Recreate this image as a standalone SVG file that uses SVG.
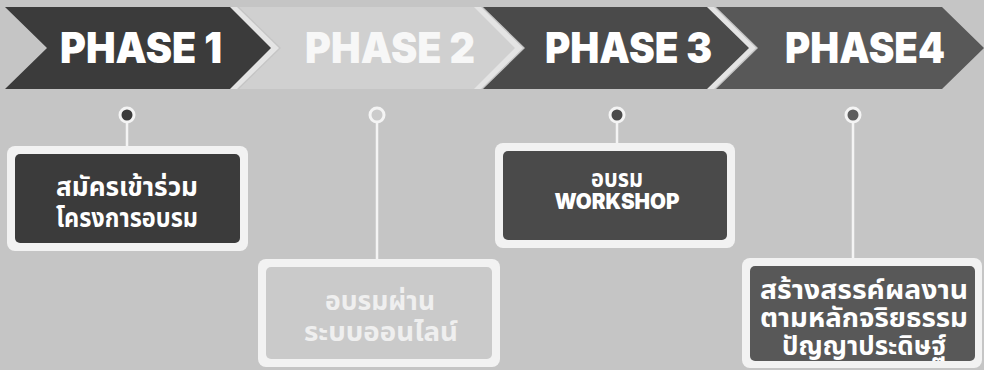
<svg xmlns="http://www.w3.org/2000/svg" width="984" height="370" viewBox="0 0 984 370">
  <style>
    .phase { font-family: "Inter", "Lato", "Liberation Sans", sans-serif; font-weight: 900; font-size: 42px; fill: #ffffff; }
    .frame { fill: #f2f2f2; }
    .thai { font-family: "Noto Sans Thai", "Noto Sans", "Liberation Sans", sans-serif; font-weight: 700; font-size: 27px; fill: #ffffff; text-anchor: middle; }
    .latin { font-family: "Inter", "Lato", "Liberation Sans", sans-serif; font-weight: 900; font-size: 21px; fill: #ffffff; text-anchor: middle; }
    .conn { stroke: #f4f4f4; stroke-width: 2.5; fill: none; }
    .dot { stroke: #f4f4f4; stroke-width: 3; }
  </style>
  <rect width="984" height="370" fill="#c5c5c5"/>

  <g id="separators" fill="#e4e4e4">
    <polygon points="228,7 237,7 279,48 237,89 228,89 270,48"/>
    <polygon points="472,7 481,7 523,48 481,89 472,89 514,48"/>
    <polygon points="705,7 714,7 756,48 714,89 705,89 747,48"/>
  </g>

  <g id="phase1">
    <polygon points="5,7 230,7 271,48 230,89 5,89 47,48" fill="#3b3b3b"/>
    <text class="phase" x="60" y="63" textLength="162" lengthAdjust="spacingAndGlyphs">PHASE 1</text>
  </g>
  <g id="phase2">
    <polygon points="239,7 474,7 515,48 474,89 239,89 281,48" fill="#d0d0d0"/>
    <text class="phase" x="305" y="63" textLength="170" lengthAdjust="spacingAndGlyphs" style="fill:#f7f7f7">PHASE 2</text>
  </g>
  <g id="phase3">
    <polygon points="483,7 707,7 749,48 707,89 483,89 525,48" fill="#4a4a4a"/>
    <text class="phase" x="545" y="63" textLength="167" lengthAdjust="spacingAndGlyphs">PHASE 3</text>
  </g>
  <g id="phase4">
    <polygon points="716,7 942,7 984,48 942,89 716,89 758,48" fill="#585858"/>
    <text class="phase" x="785" y="63" textLength="160" lengthAdjust="spacingAndGlyphs">PHASE4</text>
  </g>

  <g id="connectors">
    <line class="conn" x1="127" y1="115" x2="127" y2="148"/>
    <line class="conn" x1="377" y1="115" x2="377" y2="261"/>
    <line class="conn" x1="617" y1="115" x2="617" y2="145"/>
    <line class="conn" x1="853" y1="115" x2="853" y2="259"/>
    <circle class="dot" cx="127" cy="115" r="7" fill="#3b3b3b"/>
    <circle class="dot" cx="377" cy="115" r="7" fill="#cbcbcb"/>
    <circle class="dot" cx="617" cy="115" r="7" fill="#4a4a4a"/>
    <circle class="dot" cx="853" cy="115" r="7" fill="#5e5e5e"/>
  </g>

  <g id="step1">
    <rect class="frame" x="7" y="146" width="241" height="105" rx="8"/>
    <rect x="15" y="154" width="225" height="89" rx="5" fill="#3b3b3b"/>
    <text class="thai" x="127" y="196" textLength="142" lengthAdjust="spacingAndGlyphs">สมัครเข้าร่วม</text>
    <text class="thai" x="127" y="227" textLength="142" lengthAdjust="spacingAndGlyphs">โครงการอบรม</text>
  </g>
  <g id="step2">
    <rect class="frame" x="258" y="259" width="242" height="108" rx="8"/>
    <rect x="266" y="267" width="226" height="92" rx="5" fill="#cacaca"/>
    <text class="thai" x="380" y="310" textLength="110" lengthAdjust="spacingAndGlyphs" style="fill:#efefef">อบรมผ่าน</text>
    <text class="thai" x="381" y="341" textLength="154" lengthAdjust="spacingAndGlyphs" style="fill:#efefef">ระบบออนไลน์</text>
  </g>
  <g id="step3">
    <rect class="frame" x="495" y="143" width="240" height="105" rx="8"/>
    <rect x="503" y="151" width="224" height="89" rx="5" fill="#4a4a4a"/>
    <text class="thai" x="617" y="187" textLength="52" lengthAdjust="spacingAndGlyphs" style="font-size:24px">อบรม</text>
    <text class="latin" x="617" y="209" textLength="125" lengthAdjust="spacingAndGlyphs">WORKSHOP</text>
  </g>
  <g id="step4">
    <rect class="frame" x="742" y="258" width="240" height="110" rx="8"/>
    <rect x="750" y="266" width="225" height="95" rx="5" fill="#585858"/>
    <text class="thai" x="864" y="299" textLength="208" lengthAdjust="spacingAndGlyphs" style="font-size:26px">สร้างสรรค์ผลงาน</text>
    <text class="thai" x="864" y="327" textLength="208" lengthAdjust="spacingAndGlyphs" style="font-size:26px">ตามหลักจริยธรรม</text>
    <text class="thai" x="864" y="355" textLength="164" lengthAdjust="spacingAndGlyphs" style="font-size:26px">ปัญญาประดิษฐ์</text>
  </g>
</svg>
